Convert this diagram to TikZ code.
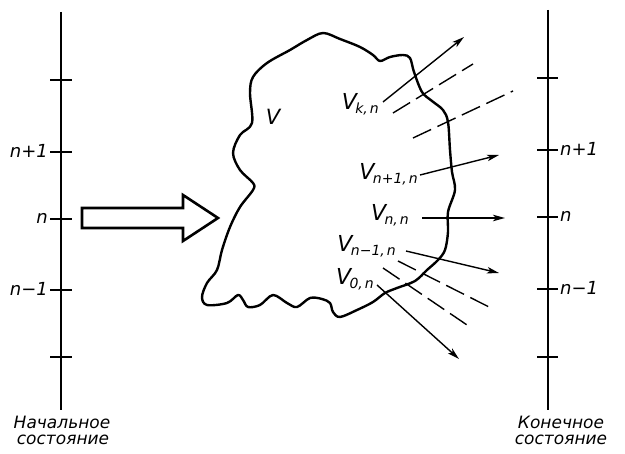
\documentclass[tikz,border=0pt]{standalone}
\usepackage{fontspec}
\setmainfont{DejaVu Sans}
\usetikzlibrary{arrows.meta}
\newcommand{\Vlab}[1]{{\fontsize{22}{22}\selectfont V}\kern-1.5pt{\fontsize{14}{14}\selectfont\raisebox{-3.5pt}{#1}}}
\begin{document}
\begin{tikzpicture}[x=1pt,y=-1pt,
  axis/.style={line width=2.2pt},
  tickmark/.style={line width=1.1pt},
  blob/.style={line width=2.4pt,line join=round},
  ray/.style={line width=1.4pt,-{Stealth[length=12pt,width=6.5pt,inset=3pt]}},
  ghost/.style={line width=1.4pt,dash pattern=on 20pt off 7pt},
  lab/.style={font=\fontsize{18}{18}\selectfont\itshape,inner sep=0pt},
  captext/.style={font=\fontsize{17}{17}\selectfont\itshape,inner sep=0pt},
  vlab/.style={font=\itshape,inner sep=0pt,anchor=base east}]
\useasboundingbox (0,0) rectangle (625,454);
% left axis
\coordinate (La) at (61,12); \coordinate (Lb) at (61,410);
\draw[axis] (La) -- (Lb);
\foreach \y in {80,152,219,290,357}{\draw[tickmark] (50,\y) -- (72,\y);}
\node[lab,anchor=east] (l1) at (48,151) {n+1};
\node[lab,anchor=east] (l0) at (48,218) {n};
\node[lab,anchor=east] (lm) at (48,289) {n−1};
\node[captext,anchor=base] (lc1) at (62,429) {Начальное};
\node[captext,anchor=base] (lc2) at (63,445) {состояние};
% right axis
\coordinate (Ra) at (548,10); \coordinate (Rb) at (548,410);
\draw[axis] (Ra) -- (Rb);
\foreach \y in {78,150,217,289,357}{\draw[tickmark] (537,\y) -- (558,\y);}
\node[lab,anchor=west] (r1) at (560,149) {n+1};
\node[lab,anchor=west] (r0) at (560,216) {n};
\node[lab,anchor=west] (rm) at (560,288) {n−1};
\node[captext,anchor=base] (rc1) at (561,429) {Конечное};
\node[captext,anchor=base] (rc2) at (561,445) {состояние};
% hollow arrow
\draw[line width=2.6pt,line join=miter]
  (82,208) -- (183,208) -- (183,195) -- (218,218) -- (183,241) -- (183,228) -- (82,228) -- cycle;
% blob
\draw[blob] plot[smooth cycle,tension=0.55] coordinates {
(323,33) (340,39) (360,47) (373,55) (380,61) (390,57) (403,55) (410,58) (414,72) (422,92)
(432,101) (443,110) (448,122) (450,150) (452,172) (455,190) (448,212) (448,232) (445,250)
(438,260) (427,270) (415,281) (397,288) (385,293) (373,302) (357,310) (340,317) (333,312)
(330,303) (322,299) (310,298) (297,307) (287,303) (273,295) (260,305) (248,307) (243,300)
(238,295) (227,303) (207,305) (202,297) (207,283) (217,270) (222,250) (230,227) (240,207)
(253,190) (253,183) (240,170) (233,153) (240,135) (252,123) (250,93) (253,77) (267,63)
(290,50) (307,40)};
\node[font=\fontsize{21}{21}\selectfont\itshape,inner sep=0pt] (V) at (273,117) {V};
% labels
\node[vlab] (vk) at (379,110) {\Vlab{k,\kern2pt n}};
\node[vlab] (vn1) at (418,180) {\Vlab{n+1,\kern2pt n}};
\node[vlab] (vn) at (409,221) {\Vlab{n,\kern2pt n}};
\node[vlab] (vm1) at (396,252) {\Vlab{n−1,\kern2pt n}};
\node[vlab] (v0) at (374,285) {\Vlab{0,\kern2pt n}};
% rays
\coordinate (ks) at (383,102); \coordinate (ke) at (464,37);
\coordinate (n1s) at (420,175); \coordinate (n1e) at (499,155);
\coordinate (ns) at (422,218); \coordinate (ne) at (505,218);
\coordinate (m1s) at (406,251); \coordinate (m1e) at (499,273);
\coordinate (zs) at (377,285); \coordinate (ze) at (459,359);
\draw[ray] (ks) -- (ke);
\draw[ray] (n1s) -- (n1e);
\draw[ray] (ns) -- (ne);
\draw[ray] (m1s) -- (m1e);
\draw[ray] (zs) -- (ze);
% dashed rays
\coordinate (d1s) at (393,113); \coordinate (d1e) at (473,64);
\coordinate (d2s) at (413,138); \coordinate (d2e) at (513,91);
\coordinate (d3s) at (398,261); \coordinate (d3e) at (493,309);
\coordinate (d4s) at (383,268); \coordinate (d4e) at (470,327);
\draw[ghost] (d1s) -- (d1e);
\draw[ghost] (d2s) -- (d2e);
\draw[ghost] (d3s) -- (d3e);
\draw[ghost] (d4s) -- (d4e);
\end{tikzpicture}
\end{document}
